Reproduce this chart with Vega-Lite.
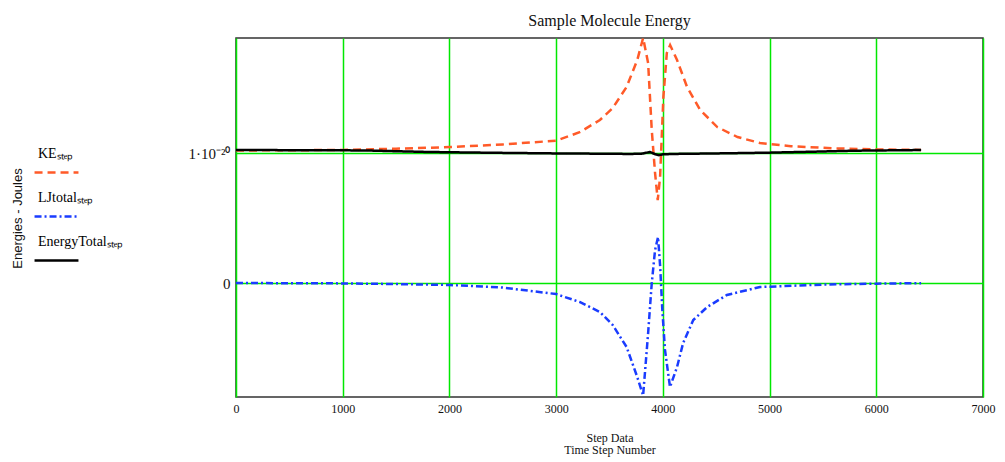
{
  "$schema": "https://vega.github.io/schema/vega-lite/v6.json",
  "width": 747,
  "height": 359,
  "autosize": {"type": "none"},
  "padding": {"left": 236, "top": 38, "right": 22, "bottom": 65},
  "background": "white",
  "title": {"text": "Sample Molecule Energy", "font": "Liberation Serif", "fontSize": 16, "fontWeight": "normal", "color": "#111111", "offset": 9},
  "config": {
    "view": {"stroke": "#333333", "strokeWidth": 1.5},
    "font": "Liberation Serif",
    "legend": {
      "orient": "none",
      "legendX": -199,
      "legendY": 96,
      "symbolType": "M-1.22,1.06H1.22",
      "symbolSize": 1296,
      "labelBaseline": "middle",
      "labelOffset": -38,
      "rowPadding": 0,
      "labelFont": "Liberation Serif",
      "labelFontSize": 14,
      "labelColor": "#000000",
      "labelLimit": 200
    }
  },
  "data": {
    "values": [
      {"step": 0, "series": "KE", "energy": 1.02e-20},
      {"step": 500, "series": "KE", "energy": 1.021e-20},
      {"step": 1000, "series": "KE", "energy": 1.024e-20},
      {"step": 1500, "series": "KE", "energy": 1.033e-20},
      {"step": 2000, "series": "KE", "energy": 1.046e-20},
      {"step": 2500, "series": "KE", "energy": 1.066e-20},
      {"step": 3000, "series": "KE", "energy": 1.095e-20},
      {"step": 3220, "series": "KE", "energy": 1.16e-20},
      {"step": 3410, "series": "KE", "energy": 1.254e-20},
      {"step": 3530, "series": "KE", "energy": 1.346e-20},
      {"step": 3660, "series": "KE", "energy": 1.508e-20},
      {"step": 3760, "series": "KE", "energy": 1.715e-20},
      {"step": 3815, "series": "KE", "energy": 1.885e-20},
      {"step": 3862, "series": "KE", "energy": 1.692e-20},
      {"step": 3896, "series": "KE", "energy": 1.177e-20},
      {"step": 3927, "series": "KE", "energy": 0.846e-20},
      {"step": 3952, "series": "KE", "energy": 0.638e-20},
      {"step": 3974, "series": "KE", "energy": 0.815e-20},
      {"step": 4005, "series": "KE", "energy": 1.431e-20},
      {"step": 4037, "series": "KE", "energy": 1.769e-20},
      {"step": 4068, "series": "KE", "energy": 1.831e-20},
      {"step": 4133, "series": "KE", "energy": 1.715e-20},
      {"step": 4227, "series": "KE", "energy": 1.508e-20},
      {"step": 4350, "series": "KE", "energy": 1.331e-20},
      {"step": 4510, "series": "KE", "energy": 1.2e-20},
      {"step": 4700, "series": "KE", "energy": 1.123e-20},
      {"step": 4910, "series": "KE", "energy": 1.077e-20},
      {"step": 5200, "series": "KE", "energy": 1.052e-20},
      {"step": 5600, "series": "KE", "energy": 1.036e-20},
      {"step": 6000, "series": "KE", "energy": 1.028e-20},
      {"step": 6420, "series": "KE", "energy": 1.024e-20},

      {"step": 0, "series": "LJtotal", "energy": 0.0},
      {"step": 1000, "series": "LJtotal", "energy": -0.003e-20},
      {"step": 1500, "series": "LJtotal", "energy": -0.008e-20},
      {"step": 2000, "series": "LJtotal", "energy": -0.015e-20},
      {"step": 2500, "series": "LJtotal", "energy": -0.035e-20},
      {"step": 3000, "series": "LJtotal", "energy": -0.085e-20},
      {"step": 3220, "series": "LJtotal", "energy": -0.146e-20},
      {"step": 3410, "series": "LJtotal", "energy": -0.223e-20},
      {"step": 3530, "series": "LJtotal", "energy": -0.323e-20},
      {"step": 3660, "series": "LJtotal", "energy": -0.492e-20},
      {"step": 3760, "series": "LJtotal", "energy": -0.723e-20},
      {"step": 3815, "series": "LJtotal", "energy": -0.865e-20},
      {"step": 3862, "series": "LJtotal", "energy": -0.385e-20},
      {"step": 3896, "series": "LJtotal", "energy": 0.0},
      {"step": 3927, "series": "LJtotal", "energy": 0.254e-20},
      {"step": 3955, "series": "LJtotal", "energy": 0.354e-20},
      {"step": 3975, "series": "LJtotal", "energy": 0.123e-20},
      {"step": 3995, "series": "LJtotal", "energy": -0.208e-20},
      {"step": 4020, "series": "LJtotal", "energy": -0.515e-20},
      {"step": 4067, "series": "LJtotal", "energy": -0.8e-20},
      {"step": 4133, "series": "LJtotal", "energy": -0.646e-20},
      {"step": 4190, "series": "LJtotal", "energy": -0.462e-20},
      {"step": 4285, "series": "LJtotal", "energy": -0.285e-20},
      {"step": 4415, "series": "LJtotal", "energy": -0.185e-20},
      {"step": 4600, "series": "LJtotal", "energy": -0.092e-20},
      {"step": 4910, "series": "LJtotal", "energy": -0.031e-20},
      {"step": 5500, "series": "LJtotal", "energy": -0.012e-20},
      {"step": 6000, "series": "LJtotal", "energy": -0.005e-20},
      {"step": 6420, "series": "LJtotal", "energy": -0.001e-20},

      {"step": 0, "series": "EnergyTotal", "energy": 1.023e-20},
      {"step": 600, "series": "EnergyTotal", "energy": 1.022e-20},
      {"step": 1200, "series": "EnergyTotal", "energy": 1.02e-20},
      {"step": 1800, "series": "EnergyTotal", "energy": 1.008e-20},
      {"step": 2400, "series": "EnergyTotal", "energy": 1.002e-20},
      {"step": 3000, "series": "EnergyTotal", "energy": 0.997e-20},
      {"step": 3400, "series": "EnergyTotal", "energy": 0.995e-20},
      {"step": 3700, "series": "EnergyTotal", "energy": 0.993e-20},
      {"step": 3800, "series": "EnergyTotal", "energy": 0.995e-20},
      {"step": 3880, "series": "EnergyTotal", "energy": 1.008e-20},
      {"step": 3930, "series": "EnergyTotal", "energy": 0.99e-20},
      {"step": 3965, "series": "EnergyTotal", "energy": 0.984e-20},
      {"step": 4000, "series": "EnergyTotal", "energy": 0.99e-20},
      {"step": 4100, "series": "EnergyTotal", "energy": 0.993e-20},
      {"step": 4600, "series": "EnergyTotal", "energy": 0.998e-20},
      {"step": 5000, "series": "EnergyTotal", "energy": 1.003e-20},
      {"step": 5400, "series": "EnergyTotal", "energy": 1.01e-20},
      {"step": 5800, "series": "EnergyTotal", "energy": 1.018e-20},
      {"step": 6420, "series": "EnergyTotal", "energy": 1.023e-20}
    ]
  },
  "mark": {"type": "line", "clip": true},
  "encoding": {
    "x": {
      "field": "step",
      "type": "quantitative",
      "scale": {"domain": [0, 7000], "nice": false},
      "axis": {
        "values": [0, 1000, 2000, 3000, 4000, 5000, 6000, 7000],
        "format": "d",
        "title": ["Step Data", "Time Step Number"],
        "grid": true,
        "gridColor": "#00e800",
        "gridOpacity": 1,
        "gridWidth": 1.5,
        "domain": false,
        "ticks": false,
        "labelFont": "Liberation Serif",
        "labelFontSize": 12,
        "labelColor": "#111111",
        "labelPadding": 6,
        "labelFlush": false,
        "titleFont": "Liberation Serif",
        "titleFontSize": 12,
        "titleFontWeight": "normal",
        "titleColor": "#111111",
        "titleLineHeight": 12,
        "titlePadding": 18
      }
    },
    "y": {
      "field": "energy",
      "type": "quantitative",
      "scale": {"domain": [-8.77e-21, 1.885e-20], "nice": false, "zero": false},
      "axis": {
        "values": [0, 1e-20],
        "labelExpr": "datum.value > 0 ? '1·10⁻²⁰' : '0'",
        "title": "Energies - Joules",
        "titleFont": "Liberation Sans",
        "titleFontSize": 13,
        "titleFontWeight": "normal",
        "titleColor": "#111111",
        "titleX": -212,
        "titleY": 180,
        "grid": true,
        "gridColor": "#00e800",
        "gridOpacity": 1,
        "gridWidth": 1.5,
        "domain": false,
        "ticks": false,
        "labelFont": "Liberation Serif",
        "labelFontSize": 15,
        "labelColor": "#111111",
        "labelPadding": 6
      }
    },
    "color": {
      "field": "series",
      "type": "nominal",
      "scale": {"domain": ["KE", "LJtotal", "EnergyTotal"], "range": ["#ff5a28", "#1a3cff", "#000000"]},
      "legend": {"title": null, "labelExpr": "datum.label + 'ₛₜₑₚ'"}
    },
    "strokeDash": {
      "field": "series",
      "type": "nominal",
      "scale": {"domain": ["KE", "LJtotal", "EnergyTotal"], "range": [[8, 5], [7, 3, 2, 3], [1, 0]]},
      "legend": {"title": null, "labelExpr": "datum.label + 'ₛₜₑₚ'"}
    },
    "strokeWidth": {
      "field": "series",
      "type": "nominal",
      "scale": {"domain": ["KE", "LJtotal", "EnergyTotal"], "range": [2.5, 2.5, 6]},
      "legend": {"title": null, "labelExpr": "datum.label + 'ₛₜₑₚ'"}
    }
  }
}
